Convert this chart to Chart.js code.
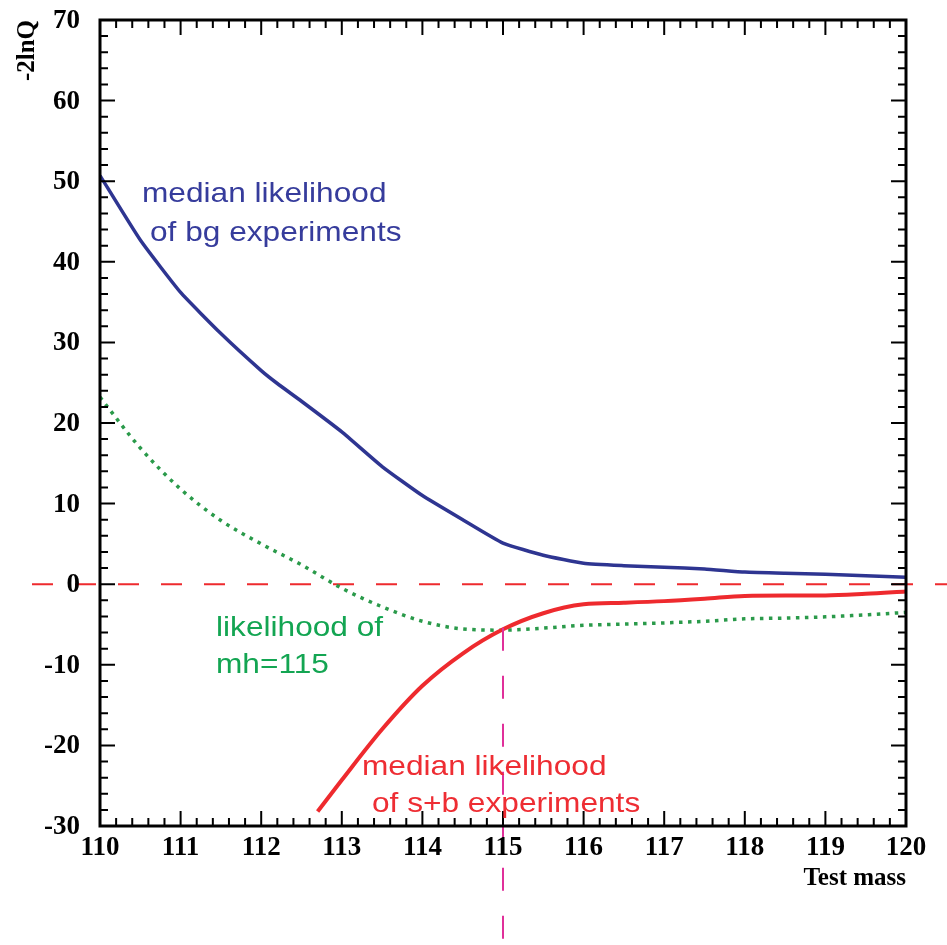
<!DOCTYPE html>
<html>
<head>
<meta charset="utf-8">
<script src="https://cdn.jsdelivr.net/npm/chart.js@4"></script>
<style>
  html, body { margin: 0; padding: 0; background: #fff; }
  #wrap { width: 947px; height: 945px; position: relative; }
</style>
</head>
<body>
<div id="wrap"><canvas id="chart"></canvas></div>
<script>
// values (test mass vs -2lnQ)
const massPoints = [110, 110.5, 111, 111.5, 112, 112.2, 112.5, 113, 113.5, 114, 114.5, 115, 115.5, 116, 116.5, 117, 117.5, 118, 118.5, 119, 119.5, 120];
const bgMedian = [50.7, 42.7, 36.2, 31.1, 26.5, 24.9, 22.7, 18.9, 14.6, 11.0, 8.0, 5.1, 3.6, 2.6, 2.3, 2.1, 1.9, 1.5, 1.35, 1.24, 1.05, 0.87];

const sbMass = [112.7, 113, 113.5, 114, 114.5, 115, 115.5, 116, 116.5, 117, 117.5, 118, 118.5, 119, 119.5, 120];
const sbMedian = [-28.2, -24.3, -18.0, -12.6, -8.6, -5.6, -3.6, -2.5, -2.3, -2.1, -1.8, -1.45, -1.4, -1.4, -1.2, -0.9];

const obsMass = [110, 110.5, 111, 111.5, 112, 112.5, 113, 113.5, 114, 114.5, 115, 115.5, 116, 116.5, 117, 117.5, 118, 118.5, 119, 119.5, 120];
const obsMh115 = [23.2, 16.9, 11.8, 7.9, 5.0, 2.4, -0.5, -2.8, -4.6, -5.55, -5.7, -5.45, -5.1, -4.95, -4.8, -4.6, -4.3, -4.2, -4.05, -3.8, -3.5];

const xTicks = [110, 111, 112, 113, 114, 115, 116, 117, 118, 119, 120];
const yTicks = [-30, -20, -10, 0, 10, 20, 30, 40, 50, 60, 70];

const BLUE = '#2e3591';
const RED = '#ee2a2e';
const GREEN = '#2a9a4a';

const toXY = (xs, ys) => xs.map((x, i) => ({ x: x, y: ys[i] }));

// frame, ticks, labels, reference lines, notes
const decor = {
  id: 'decor',
  beforeDatasetsDraw(chart) {
    const ctx = chart.ctx;
    const ys = chart.scales.y;
    ctx.save();
    // zero line
    ctx.strokeStyle = RED;
    ctx.lineWidth = 2;
    ctx.setLineDash([21, 22]);
    const y0 = ys.getPixelForValue(0);
    ctx.beginPath();
    ctx.moveTo(32, y0);
    ctx.lineTo(947, y0);
    ctx.stroke();
    ctx.restore();
  },
  afterDatasetsDraw(chart) {
    const ctx = chart.ctx;
    const xs = chart.scales.x, ys = chart.scales.y;
    const a = chart.chartArea;
    ctx.save();

    // vertical marker at 115
    ctx.strokeStyle = '#e0309a';
    ctx.lineWidth = 2;
    ctx.setLineDash([23, 25]);
    const x115 = xs.getPixelForValue(115);
    ctx.beginPath();
    ctx.moveTo(x115, ys.getPixelForValue(-5.4));
    ctx.lineTo(x115, 945);
    ctx.stroke();
    ctx.setLineDash([]);

    // ticks
    ctx.strokeStyle = '#000';
    ctx.lineWidth = 2;
    ctx.beginPath();
    for (let v = -30; v <= 70; v += 2) {
      const py = ys.getPixelForValue(v);
      const len = (v % 10 === 0) ? 15 : 8;
      ctx.moveTo(a.left, py); ctx.lineTo(a.left + len, py);
      ctx.moveTo(a.right, py); ctx.lineTo(a.right - len, py);
    }
    for (let k = 0; k <= 50; k++) {
      const v = 110 + k * 0.2;
      const px = xs.getPixelForValue(v);
      const len = (k % 5 === 0) ? 15 : 8;
      ctx.moveTo(px, a.bottom); ctx.lineTo(px, a.bottom - len);
      ctx.moveTo(px, a.top); ctx.lineTo(px, a.top + len);
    }
    ctx.stroke();

    // frame
    ctx.lineWidth = 3;
    ctx.strokeRect(a.left, a.top, a.right - a.left, a.bottom - a.top);

    // tick labels
    ctx.fillStyle = '#000';
    ctx.font = 'bold 27px "Liberation Serif", "Times New Roman", serif';
    ctx.textAlign = 'right';
    ctx.textBaseline = 'middle';
    yTicks.forEach(v => ctx.fillText(String(v), 80, ys.getPixelForValue(v) + 1));
    ctx.textAlign = 'center';
    ctx.textBaseline = 'top';
    xTicks.forEach(v => ctx.fillText(String(v), xs.getPixelForValue(v), 835));

    // axis titles
    ctx.font = 'bold 25px "Liberation Serif", "Times New Roman", serif';
    ctx.textAlign = 'right';
    ctx.textBaseline = 'alphabetic';
    ctx.fillText('Test mass', a.right, 885);
    ctx.save();
    ctx.translate(34, 20);
    ctx.rotate(-Math.PI / 2);
    ctx.font = 'bold 25px "Liberation Serif", "Times New Roman", serif';
    ctx.textAlign = 'right';
    ctx.fillText('-2lnQ', 0, 0);
    ctx.restore();

    // curve notes (stretched sans like the original)
    const note = (txt, x, y, color) => {
      ctx.save();
      ctx.translate(x, y);
      ctx.scale(1.13, 1);
      ctx.font = '28px "Liberation Sans", Arial, sans-serif';
      ctx.fillStyle = color;
      ctx.textAlign = 'left';
      ctx.textBaseline = 'alphabetic';
      ctx.fillText(txt, 0, 0);
      ctx.restore();
    };
    note('median likelihood', 142, 202, '#363c9c');
    note('of bg experiments', 150, 241, '#363c9c');
    note('likelihood of', 216, 636, '#13a552');
    note('mh=115', 216, 673, '#13a552');
    note('median likelihood', 362, 775, '#ee2d33');
    note('of s+b experiments', 372, 812, '#ee2d33');

    ctx.restore();
  }
};

new Chart(document.getElementById('chart'), {
  type: 'line',
  data: {
    datasets: [
      {
        label: 'median likelihood of bg experiments',
        data: toXY(massPoints, bgMedian),
        borderColor: BLUE,
        borderWidth: 3.5,
        pointRadius: 0,
        tension: 0.15
      },
      {
        label: 'median likelihood of s+b experiments',
        data: toXY(sbMass, sbMedian),
        borderColor: RED,
        borderWidth: 4,
        pointRadius: 0,
        cubicInterpolationMode: 'monotone'
      },
      {
        label: 'likelihood of mh=115',
        data: toXY(obsMass, obsMh115),
        borderColor: GREEN,
        borderWidth: 3.5,
        borderDash: [3.5, 5.5],
        borderCapStyle: 'butt',
        pointRadius: 0,
        cubicInterpolationMode: 'monotone'
      }
    ]
  },
  options: {
    responsive: true,
    maintainAspectRatio: false,
    animation: false,
    events: [],
    layout: { padding: { left: 100, top: 20, right: 41, bottom: 119 } },
    scales: {
      x: { type: 'linear', min: 110, max: 120, display: false },
      y: { type: 'linear', min: -30, max: 70, display: false }
    },
    plugins: {
      legend: { display: false },
      tooltip: { enabled: false }
    }
  },
  plugins: [decor]
});
</script>
</body>
</html>
